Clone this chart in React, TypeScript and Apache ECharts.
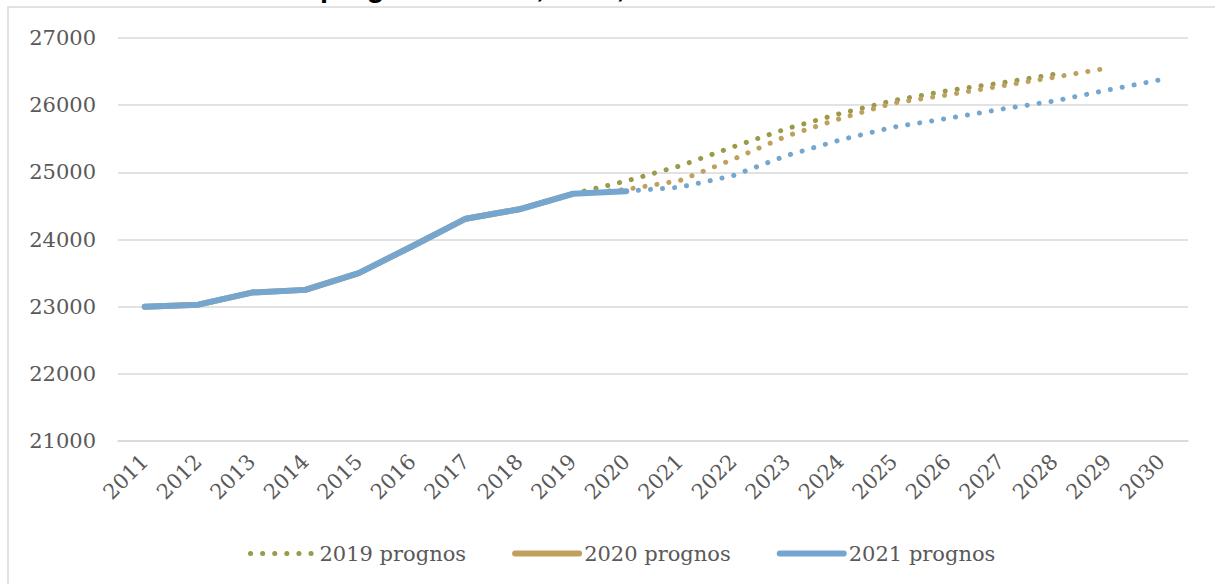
import React, { useEffect, useRef } from "react";
import * as echarts from "echarts";

const years = ["2011","2012","2013","2014","2015","2016","2017","2018","2019","2020","2021","2022","2023","2024","2025","2026","2027","2028","2029","2030"];
const yTicks = { min: 21000, max: 27000, interval: 1000 };

// 2019 prognos (whole series, dotted)
const prognos2019 = [23000, 23030, 23210, 23250, 23500, 23900, 24310, 24450, 24680, 24870, 25095, 25380, 25650, 25875, 26070, 26215, 26330, 26460, null, null];
// 2020 prognos: outcome part and forecast part
const utfall2020 = [23000, 23030, 23210, 23250, 23500, 23900, 24310, 24450, 24680, null, null, null, null, null, null, null, null, null, null, null];
const prognosdel2020 = [null, null, null, null, null, null, null, null, 24680, 24745, 24877, 25195, 25541, 25800, 26033, 26152, 26285, 26415, 26553, null];
// 2021 prognos: outcome part and forecast part
const utfall2021 = [23000, 23030, 23210, 23250, 23500, 23900, 24310, 24450, 24680, 24720, null, null, null, null, null, null, null, null, null, null];
const prognosdel2021 = [null, null, null, null, null, null, null, null, null, 24720, 24778, 24951, 25250, 25482, 25675, 25802, 25939, 26062, 26226, 26380];

const OLIVE = "#9a9a4a";
const TAN = "#c0a05e";
const BLUE = "#74a6cf";
const FONT = "DejaVu Serif";
const dots = [0.1, 12];

export default function App() {
  const ref = useRef<HTMLDivElement>(null);
  useEffect(() => {
    const chart = echarts.init(ref.current!, null, { renderer: "svg" });
    chart.setOption({
      animation: false,
      backgroundColor: "#ffffff",
      graphic: [
        {
          type: "rect",
          shape: { x: 8, y: 7, width: 1240, height: 620 },
          style: { fill: "none", stroke: "#d9d9d9", lineWidth: 1.5 },
          silent: true,
        },
        {
          type: "text",
          x: 320,
          y: 1,
          style: {
            text: "prognoser 2019, 2020, 2021",
            font: "bold 29px 'Liberation Sans'",
            fill: "#000000",
            verticalAlign: "bottom",
            align: "left",
          },
          silent: true,
        },
      ],
      grid: { left: 118, right: 27, top: 38, bottom: 143 },
      legend: {
        left: 243,
        top: 538,
        itemWidth: 64,
        itemHeight: 14,
        itemGap: 46,
        itemStyle: { opacity: 0 },
        textStyle: { fontFamily: FONT, fontSize: 21, color: "#595959" },
        data: [
          { name: "2019 prognos", itemStyle: { opacity: 0 }, lineStyle: { width: 5, type: dots, cap: "round", color: OLIVE } },
          { name: "2020 prognos", itemStyle: { opacity: 0 }, lineStyle: { width: 6, type: "solid", cap: "round", color: TAN } },
          { name: "2021 prognos", itemStyle: { opacity: 0 }, lineStyle: { width: 6, type: "solid", cap: "round", color: BLUE } },
        ],
      },
      xAxis: {
        type: "category",
        data: years,
        boundaryGap: true,
        axisLine: { show: true, lineStyle: { color: "#d9d9d9", width: 1.5 } },
        axisTick: { show: false },
        axisLabel: { rotate: 45, margin: 17, fontFamily: FONT, fontSize: 21, color: "#595959", interval: 0 },
      },
      yAxis: {
        type: "value",
        min: yTicks.min,
        max: yTicks.max,
        interval: yTicks.interval,
        axisLine: { show: false },
        axisTick: { show: false },
        axisLabel: { margin: 22, fontFamily: FONT, fontSize: 21, color: "#595959", formatter: (v: number) => String(v) },
        splitLine: { lineStyle: { color: "#d9d9d9", width: 1.5 } },
      },
      series: [
        {
          name: "2019 prognos",
          type: "line",
          data: prognos2019,
          symbol: "none",
          lineStyle: { color: OLIVE, width: 5, type: dots, cap: "round" },
          itemStyle: { color: OLIVE },
        },
        {
          name: "2020 prognos – prognosdel",
          type: "line",
          data: prognosdel2020,
          symbol: "none",
          lineStyle: { color: TAN, width: 5, type: dots, cap: "round" },
          itemStyle: { color: TAN },
        },
        {
          name: "2020 prognos",
          type: "line",
          data: utfall2020,
          symbol: "none",
          lineStyle: { color: TAN, width: 6, cap: "round", join: "round" },
          itemStyle: { color: TAN },
        },
        {
          name: "2021 prognos – prognosdel",
          type: "line",
          data: prognosdel2021,
          symbol: "none",
          lineStyle: { color: BLUE, width: 5, type: dots, cap: "round" },
          itemStyle: { color: BLUE },
        },
        {
          name: "2021 prognos",
          type: "line",
          data: utfall2021,
          symbol: "none",
          lineStyle: { color: BLUE, width: 6, cap: "round", join: "round" },
          itemStyle: { color: BLUE },
        },
      ],
    });
    return () => chart.dispose();
  }, []);
  return <div ref={ref} style={{ position: "absolute", left: 0, top: 0, width: 1215, height: 584 }} />;
}
